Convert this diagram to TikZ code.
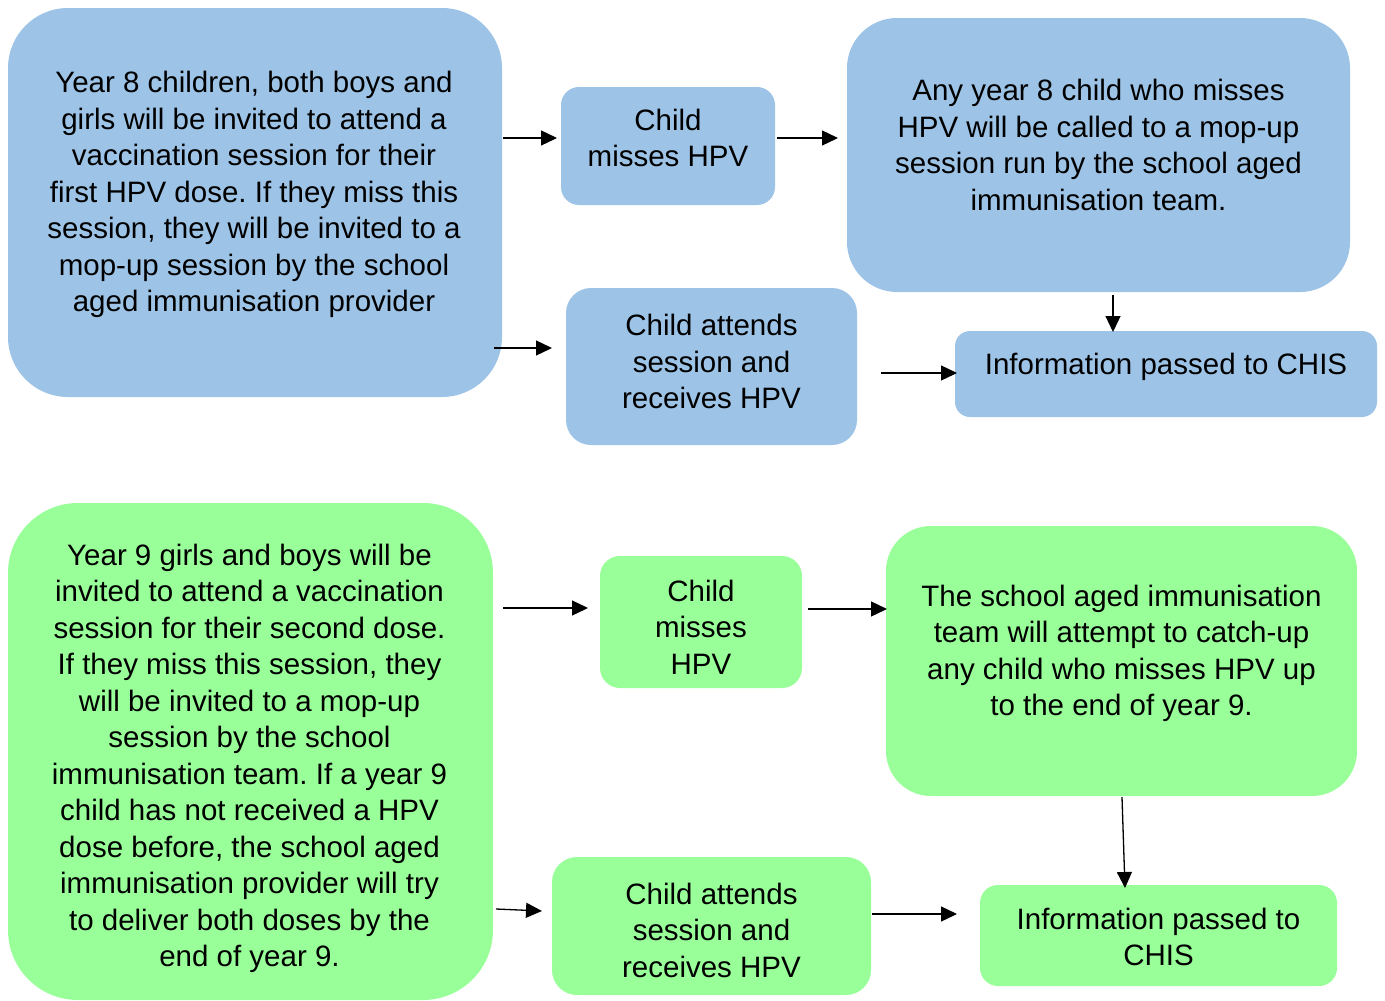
\documentclass[tikz,border=0pt]{standalone}
\usepackage{fontspec}
\setmainfont{Liberation Sans}
\usetikzlibrary{arrows.meta,calc}
\definecolor{boxblue}{HTML}{9DC3E6}
\definecolor{boxgreen}{HTML}{99FF99}
\frenchspacing
\tikzset{
  box/.style={rectangle, inner sep=0pt, draw=none},
  bluebox/.style={box, fill=boxblue},
  greenbox/.style={box, fill=boxgreen},
  txt/.style={align=center, inner sep=0pt, font=\fontsize{29.5pt}{36.5pt}\selectfont},
  arr/.style={line width=1.3pt, -{Triangle[length=16pt,width=15pt]}}
}
\begin{document}
\begin{tikzpicture}[x=1pt,y=-1pt]
\useasboundingbox (0,0) rectangle (1385,1001);
% ---- top (year 8) ----
\node[bluebox, rounded corners=60pt, minimum width=494pt, minimum height=389pt] (b1) at (255,202.5) {};
\node[txt] (b1t) at (254,194.5) {Year 8 children, both boys and\\girls will be invited to attend a\\vaccination session for their\\first HPV dose. If they miss this\\session, they will be invited to a\\mop-up session by the school\\aged immunisation provider};
\node[bluebox, rounded corners=18pt, minimum width=214pt, minimum height=118pt] (b2) at (668,146) {};
\node[txt] (b2t) at (668,138) {Child\\misses HPV};
\node[bluebox, rounded corners=50pt, minimum width=503pt, minimum height=274pt] (b3) at (1098.5,155) {};
\node[txt] (b3t) at (1098.5,145) {Any year 8 child who misses\\HPV will be called to a mop-up\\session run by the school aged\\immunisation team.};
\node[bluebox, rounded corners=25pt, minimum width=291pt, minimum height=157pt] (b4) at (711.5,366.5) {};
\node[txt] (b4t) at (711.5,361.5) {Child attends\\session and\\receives HPV};
\node[bluebox, rounded corners=15pt, minimum width=422pt, minimum height=86pt] (b5) at (1166,374) {};
\node[txt] (b5t) at (1166,367) {Information passed to CHIS};
% ---- bottom (year 9) ----
\node[greenbox, rounded corners=70pt, minimum width=485pt, minimum height=497pt] (g1) at (250.5,751.5) {};
\node[txt] (g1t) at (249.5,758.5) {Year 9 girls and boys will be\\invited to attend a vaccination\\session for their second dose.\\If they miss this session, they\\will be invited to a mop-up\\session by the school\\immunisation team. If a year 9\\child has not received a HPV\\dose before, the school aged\\immunisation provider will try\\to deliver both doses by the\\end of year 9.};
\node[greenbox, rounded corners=20pt, minimum width=202pt, minimum height=132pt] (g2) at (701,622) {};
\node[txt] (g2t) at (701,627) {Child\\misses\\HPV};
\node[greenbox, rounded corners=45pt, minimum width=471pt, minimum height=270pt] (g3) at (1121.5,661) {};
\node[txt] (g3t) at (1121.5,653.5) {The school aged immunisation\\team will attempt to catch-up\\any child who misses HPV up\\to the end of year 9.};
\node[greenbox, rounded corners=25pt, minimum width=319pt, minimum height=138pt] (g4) at (711.5,926) {};
\node[txt] (g4t) at (711.5,930) {Child attends\\session and\\receives HPV};
\node[greenbox, rounded corners=18pt, minimum width=357pt, minimum height=101pt] (g5) at (1158.5,935.5) {};
\node[txt] (g5t) at (1158.5,937) {Information passed to\\CHIS};
% ---- arrow end points ----
\coordinate (a1s) at (503,138); \coordinate (a1e) at (557,138);
\coordinate (a2s) at (777,138); \coordinate (a2e) at (838,138);
\coordinate (a3s) at (494,348); \coordinate (a3e) at (552,348);
\coordinate (a4s) at (881,373); \coordinate (a4e) at (957,373);
\coordinate (a5s) at (1113,295); \coordinate (a5e) at (1113,332);
\coordinate (c1s) at (503,608); \coordinate (c1e) at (588,608);
\coordinate (c2s) at (808,609); \coordinate (c2e) at (887,609);
\coordinate (c3s) at (496,909); \coordinate (c3e) at (542,911);
\coordinate (c4s) at (872,914); \coordinate (c4e) at (957,914);
\coordinate (c5s) at (1122,797); \coordinate (c5e) at (1125,888);
\foreach \s/\e in {a1s/a1e,a2s/a2e,a3s/a3e,a4s/a4e,a5s/a5e,c1s/c1e,c2s/c2e,c3s/c3e,c4s/c4e,c5s/c5e}
  \draw[arr] (\s) -- (\e);
\end{tikzpicture}
\end{document}
